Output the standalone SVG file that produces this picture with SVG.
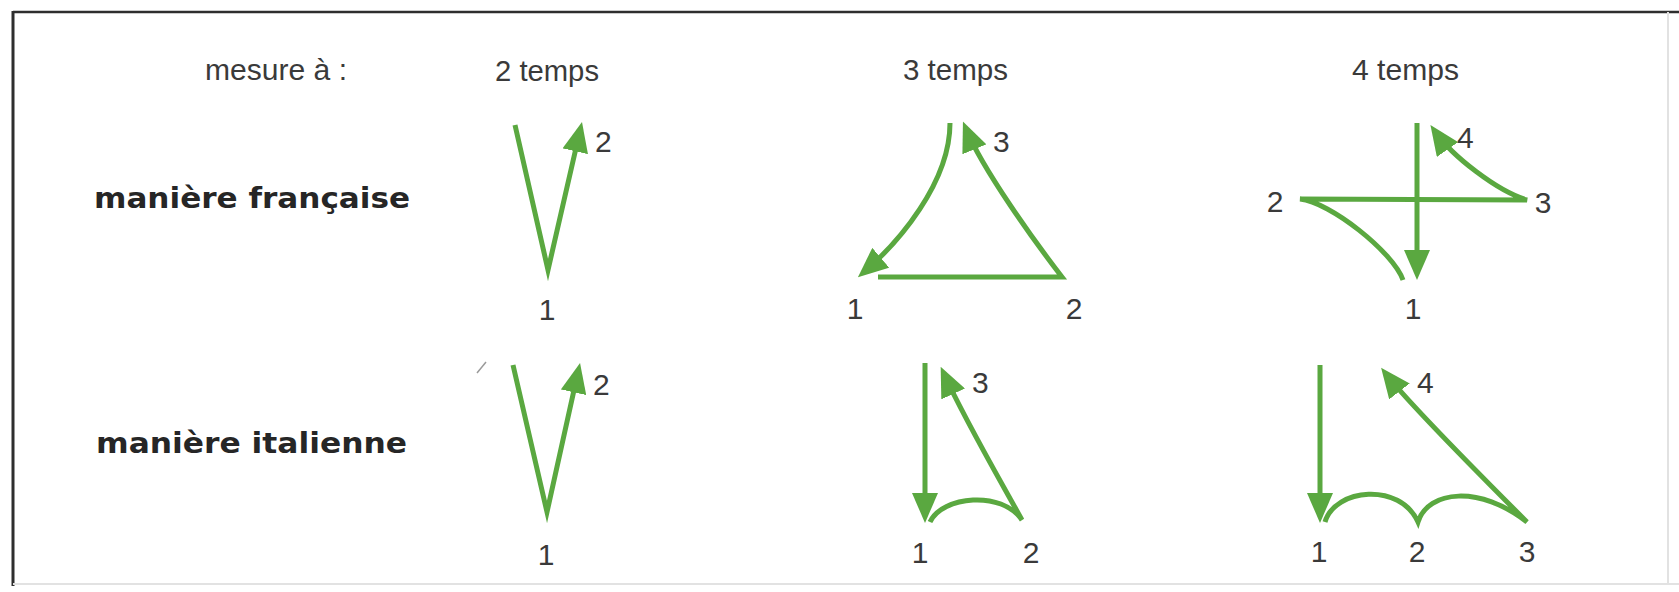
<svg xmlns="http://www.w3.org/2000/svg" width="1679" height="592" viewBox="0 0 1679 592">
<style>
.bg{fill:#ffffff}
.frame{stroke:#2e2e2e;stroke-width:2.5;fill:none}
.frame-light{stroke:#e2e2e2;stroke-width:2;fill:none}
.g{stroke:#5aa840;stroke-width:5;fill:none;stroke-linejoin:miter;stroke-miterlimit:10;stroke-linecap:butt}
.head{font-family:"Liberation Sans",Arial,sans-serif;font-size:30px;fill:#3a3a3a}
.num{font-family:"Liberation Sans",Arial,sans-serif;font-size:30px;fill:#3a3a3a}
.lab{font-family:"DejaVu Sans","Liberation Sans",sans-serif;font-weight:bold;font-size:28px;fill:#262626}
</style>
<defs>
<marker id="ah" viewBox="0 0 30 26" refX="22" refY="13" markerWidth="30" markerHeight="26" markerUnits="userSpaceOnUse" orient="auto">
<path d="M0,0 L30,13 L0,26 z" fill="#5aa840"/>
</marker>
</defs>
<rect class="bg" x="0" y="0" width="1679" height="592"/>
<g id="frame">
<line class="frame" x1="13" y1="12" x2="1679" y2="12"/>
<line class="frame" x1="13" y1="11" x2="13" y2="586" style="stroke-width:3"/>
<line class="frame-light" x1="13" y1="584" x2="1679" y2="584"/>
<line class="frame-light" x1="1668" y1="12" x2="1668" y2="584"/>
<line x1="477" y1="373" x2="486" y2="362" stroke="#9a9a9a" stroke-width="1.5"/>
</g>
<g id="headers">
<text class="head" x="205" y="80" textLength="142" lengthAdjust="spacingAndGlyphs">mesure à :</text>
<text class="head" x="495" y="81" textLength="104" lengthAdjust="spacingAndGlyphs">2 temps</text>
<text class="head" x="903" y="80" textLength="105" lengthAdjust="spacingAndGlyphs">3 temps</text>
<text class="head" x="1352" y="80" textLength="107" lengthAdjust="spacingAndGlyphs">4 temps</text>
</g>
<g id="row-labels">
<text class="lab" x="94" y="208" textLength="316" lengthAdjust="spacingAndGlyphs">manière française</text>
<text class="lab" x="96" y="453" textLength="311" lengthAdjust="spacingAndGlyphs">manière italienne</text>
</g>
<g id="connectors">
<!-- 2 temps française -->
<path class="g" d="M515,125 L548,270 L580.2,129.8" marker-end="url(#ah)"/>
<!-- 2 temps italienne -->
<path class="g" d="M513,365 L547,512 L578.3,370.8" marker-end="url(#ah)"/>
<!-- 3 temps française -->
<path class="g" d="M950,123 C950,183 898,243 864,272" marker-end="url(#ah)"/>
<path class="g" d="M878,277 L1062,277 C1035,242 983,170 966,129" marker-end="url(#ah)"/>
<!-- 3 temps italienne -->
<path class="g" d="M925,363 L925,515" marker-end="url(#ah)"/>
<path class="g" style="stroke-miterlimit:4" d="M930,522 C942,496 1002,490 1022,520 C1000,480 965,420 944,374" marker-end="url(#ah)"/>
<!-- 4 temps française -->
<path class="g" d="M1417,123 L1417,272" marker-end="url(#ah)"/>
<path class="g" style="stroke-miterlimit:4" d="M1403,280 C1393,252 1330,202 1300,199 L1527,200 C1497,191 1452,156 1435,131.5" marker-end="url(#ah)"/>
<!-- 4 temps italienne -->
<path class="g" d="M1320,365 L1320,515" marker-end="url(#ah)"/>
<path class="g" style="stroke-miterlimit:4" d="M1325,522 C1335,488 1400,482 1418,522 C1428,490 1480,485 1527,522 C1490,485 1410,405 1386,374" marker-end="url(#ah)"/>
</g>
<g id="n2fr">
<text class="num" x="595" y="152">2</text>
<text class="num" x="547" y="320" text-anchor="middle">1</text>
</g>
<g id="n2it">
<text class="num" x="593" y="395">2</text>
<text class="num" x="546" y="565" text-anchor="middle">1</text>
</g>
<g id="n3fr">
<text class="num" x="993" y="152">3</text>
<text class="num" x="855" y="319" text-anchor="middle">1</text>
<text class="num" x="1074" y="319" text-anchor="middle">2</text>
</g>
<g id="n3it">
<text class="num" x="972" y="393">3</text>
<text class="num" x="920" y="563" text-anchor="middle">1</text>
<text class="num" x="1031" y="563" text-anchor="middle">2</text>
</g>
<g id="n4fr">
<text class="num" x="1457" y="148">4</text>
<text class="num" x="1275" y="212" text-anchor="middle">2</text>
<text class="num" x="1543" y="213" text-anchor="middle">3</text>
<text class="num" x="1413" y="319" text-anchor="middle">1</text>
</g>
<g id="n4it">
<text class="num" x="1417" y="393">4</text>
<text class="num" x="1319" y="562" text-anchor="middle">1</text>
<text class="num" x="1417" y="562" text-anchor="middle">2</text>
<text class="num" x="1527" y="562" text-anchor="middle">3</text>
</g>
</svg>
